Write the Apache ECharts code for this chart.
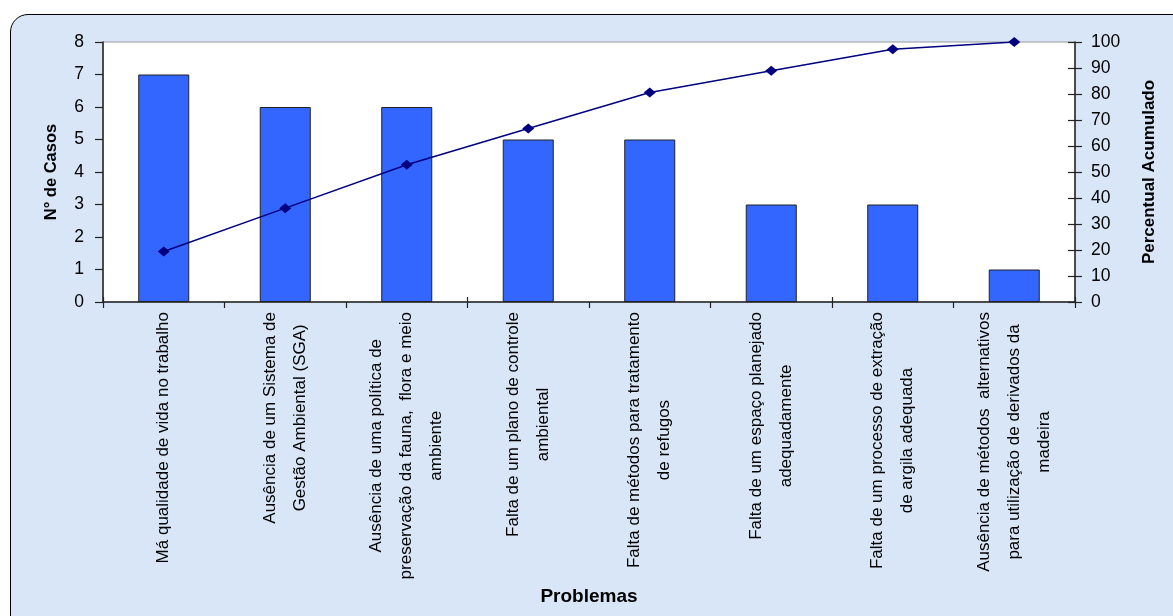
<!DOCTYPE html>
<html>
<head>
<meta charset="utf-8">
<script src="https://cdn.jsdelivr.net/npm/echarts@6/dist/echarts.min.js"></script>
<style>
  html, body { margin:0; padding:0; background:#fff; overflow:hidden; }
  #bg { position:absolute; left:10px; top:14px; width:1200px; height:650px;
        border:1.5px solid #000; border-radius:18px; background:#d8e6f7; }
  #c { position:absolute; left:0; top:0; width:1173px; height:616px; }
</style>
</head>
<body>
<div id="bg"></div>
<div id="c"></div>
<script>
const categories = [
  "Má qualidade de vida no trabalho",
  "Ausência de um Sistema de\nGestão Ambiental (SGA)",
  "Ausência de uma política de\npreservação da fauna,  flora e meio\nambiente",
  "Falta de um plano de controle\nambiental",
  "Falta de métodos para tratamento\nde refugos",
  "Falta de um espaço planejado\nadequadamente",
  "Falta de um processo de extração\nde argila adequada",
  "Ausência de métodos  alternativos\npara utilização de derivados da\nmadeira"
];
const casos = [7, 6, 6, 5, 5, 3, 3, 1];
const percentualAcumulado = [19.4, 36.1, 52.8, 66.7, 80.6, 88.9, 97.2, 100];
const leftTicks = [0, 8, 1];
const rightTicks = [0, 100, 10];

const FF = "'Liberation Sans', Arial, sans-serif";
const chart = echarts.init(document.getElementById('c'), null, {renderer:'canvas'});
chart.setOption({
  backgroundColor: 'transparent',
  animation: false,
  grid: { left: 103, right: 98, top: 42, bottom: 314, show: true,
          backgroundColor: '#fff', borderColor: '#9a9a9a', borderWidth: 1 },
  xAxis: [{
    type: 'category', data: categories, position: 'bottom',
    axisLine: { lineStyle: { color: '#222', width: 1.5 } },
    axisTick: { show: true, length: 6, lineStyle: { color: '#222', width: 1.2 } },
    axisLabel: {
      interval: 0, rotate: 90, margin: 10, color: '#000',
      formatter: v => v.split('\n').map(s => '{c|' + s + '}').join('\n'),
      rich: { c: { align: 'center', fontSize: 17, lineHeight: 30, fontFamily: FF, color: '#000' } }
    },
    name: 'Problemas', nameLocation: 'middle', nameGap: 285,
    nameTextStyle: { fontFamily: FF, fontSize: 19, fontWeight: 'bold', color: '#000' }
  }, {
    type: 'category', data: categories, position: 'bottom', offset: 0,
    axisLine: { show: false },
    axisTick: { show: true, inside: true, length: 5, lineStyle: { color: '#222', width: 1.2 } },
    axisLabel: { show: false }
  }],
  yAxis: [{
    type: 'value', min: leftTicks[0], max: leftTicks[1], interval: leftTicks[2], position: 'left',
    splitLine: { show: false },
    axisLine: { show: true, lineStyle: { color: '#222', width: 1.5 } },
    axisTick: { show: true, length: 8, lineStyle: { color: '#222', width: 1.2 } },
    axisLabel: { margin: 19, fontFamily: FF, fontSize: 17.5, color: '#000' },
    name: 'N° de Casos', nameLocation: 'middle', nameGap: 43, nameRotate: 90,
    nameTextStyle: { fontFamily: FF, fontSize: 16.5, fontWeight: 'bold', color: '#000' }
  }, {
    type: 'value', min: rightTicks[0], max: rightTicks[1], interval: rightTicks[2], position: 'right',
    splitLine: { show: false },
    axisLine: { show: true, lineStyle: { color: '#222', width: 1.5 } },
    axisTick: { show: true, length: 7, lineStyle: { color: '#222', width: 1.2 } },
    axisLabel: { margin: 16, fontFamily: FF, fontSize: 17.5, color: '#000' },
    name: 'Percentual Acumulado', nameLocation: 'middle', nameGap: 66, nameRotate: 90,
    nameTextStyle: { fontFamily: FF, fontSize: 17, fontWeight: 'bold', color: '#000' }
  }, {
    type: 'value', min: rightTicks[0], max: rightTicks[1], interval: rightTicks[2], position: 'right',
    splitLine: { show: false },
    axisLine: { show: false },
    axisTick: { show: true, inside: true, length: 7, lineStyle: { color: '#222', width: 1.2 } },
    axisLabel: { show: false }
  }],
  series: [{
    type: 'bar', data: casos, xAxisIndex: 0, yAxisIndex: 0, barWidth: '42%',
    itemStyle: { color: '#3366ff', borderColor: '#222', borderWidth: 1 },
    z: 2
  }, {
    type: 'line', data: percentualAcumulado, xAxisIndex: 0, yAxisIndex: 1,
    symbol: 'diamond', symbolSize: [12, 10], showSymbol: true,
    lineStyle: { color: '#000080', width: 1.5 },
    itemStyle: { color: '#000080' },
    z: 3
  }]
});
</script>
</body>
</html>
